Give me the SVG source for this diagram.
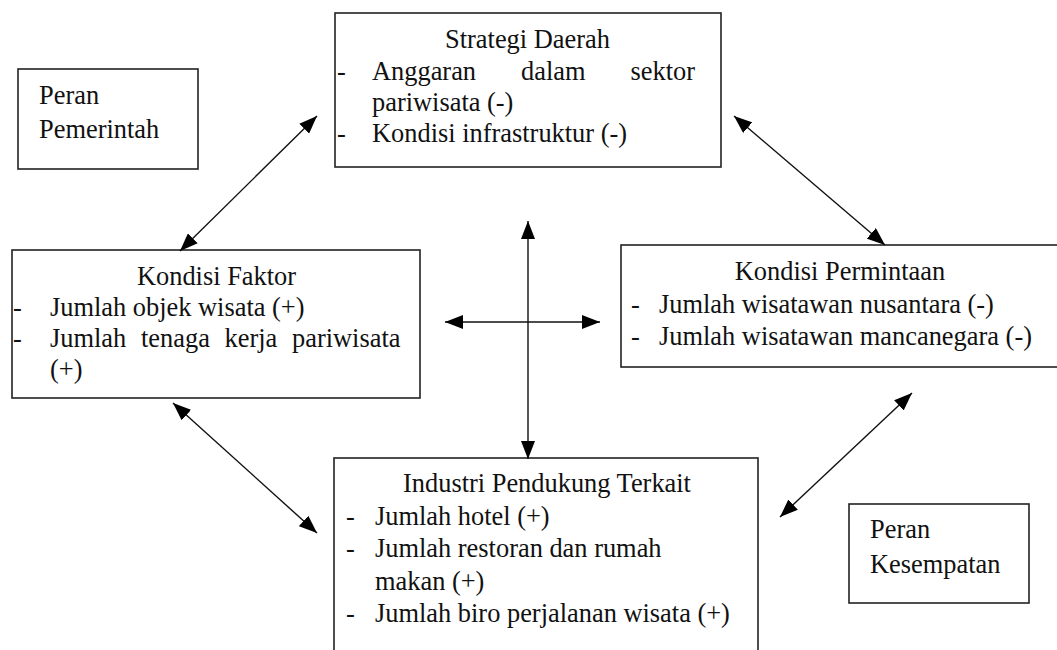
<svg xmlns="http://www.w3.org/2000/svg" width="1057" height="650" viewBox="0 0 1057 650">
<style>
  .box{fill:#fff;stroke:#222;stroke-width:1.6}
  text{font-family:"Liberation Serif","Times New Roman",serif;font-size:26.4px;fill:#111}
  .c{text-anchor:middle}
  .conn line{stroke:#111;stroke-width:1.4;marker-start:url(#ah);marker-end:url(#ah)}
</style>
<defs>
  <marker id="ah" markerUnits="userSpaceOnUse" markerWidth="18" markerHeight="14" viewBox="0 0 18 14" refX="18" refY="7" orient="auto-start-reverse">
    <path d="M0,0 L18,7 L0,14 z" fill="#000"/>
  </marker>
</defs>
<rect width="1057" height="650" fill="#fff"/>

<g id="peran-pemerintah">
  <rect class="box" x="18" y="69" width="180" height="100"/>
  <text x="39" y="104">Peran</text>
  <text x="39" y="138">Pemerintah</text>
</g>

<g id="strategi-daerah">
  <rect class="box" x="335" y="13" width="386" height="154"/>
  <text class="c" x="527.5" y="48">Strategi Daerah</text>
  <text x="337" y="80">-</text>
  <text y="80"><tspan x="372">Anggaran</tspan><tspan x="521">dalam</tspan><tspan x="630.5">sektor</tspan></text>
  <text x="372" y="111">pariwisata (-)</text>
  <text x="337" y="142">-</text>
  <text x="372" y="142">Kondisi infrastruktur (-)</text>
</g>

<g id="kondisi-faktor">
  <rect class="box" x="12" y="250" width="408" height="148"/>
  <text class="c" x="216.5" y="285">Kondisi Faktor</text>
  <text x="13" y="316">-</text>
  <text x="50" y="316">Jumlah objek wisata (+)</text>
  <text x="13" y="347">-</text>
  <text y="347"><tspan x="50">Jumlah</tspan><tspan x="141">tenaga</tspan><tspan x="224.5">kerja</tspan><tspan x="292">pariwisata</tspan></text>
  <text x="50" y="378">(+)</text>
</g>

<g id="kondisi-permintaan">
  <rect class="box" x="621" y="245" width="445" height="122"/>
  <text class="c" x="840" y="280">Kondisi Permintaan</text>
  <text x="631" y="313">-</text>
  <text x="659" y="313">Jumlah wisatawan nusantara (-)</text>
  <text x="631" y="345">-</text>
  <text x="659" y="345">Jumlah wisatawan mancanegara (-)</text>
</g>

<g id="industri-pendukung">
  <rect class="box" x="334" y="458" width="424" height="210"/>
  <text class="c" x="547" y="492">Industri Pendukung Terkait</text>
  <text x="346" y="524.5">-</text>
  <text x="375" y="524.5">Jumlah hotel (+)</text>
  <text x="346" y="557">-</text>
  <text x="375" y="557">Jumlah restoran dan rumah</text>
  <text x="375" y="589.5">makan (+)</text>
  <text x="346" y="622">-</text>
  <text x="375" y="622">Jumlah biro perjalanan wisata (+)</text>
</g>

<g id="peran-kesempatan">
  <rect class="box" x="849" y="504" width="180" height="99"/>
  <text x="870" y="538">Peran</text>
  <text x="870" y="573">Kesempatan</text>
</g>

<g id="connectors" class="conn">
  <line x1="180" y1="251" x2="317" y2="116"/>
  <line x1="734" y1="116" x2="885" y2="245"/>
  <line x1="528" y1="221" x2="528" y2="459"/>
  <line x1="445" y1="322" x2="600" y2="322"/>
  <line x1="173" y1="403" x2="317" y2="533"/>
  <line x1="912" y1="393" x2="780" y2="517"/>
</g>
</svg>
